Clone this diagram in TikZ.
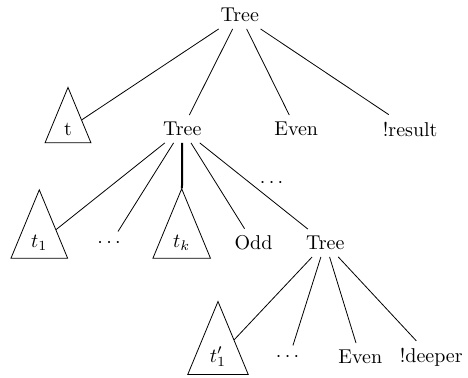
\documentclass[tikz,border=0pt]{standalone}
\usepackage{tikz}
\usepackage{amsmath, amssymb}
\usetikzlibrary{
  positioning,
  shapes.geometric
}

\begin{document}
\begin{tikzpicture}[x=0.5pt, y=0.5pt,
  word/.style={inner sep=0.3333em},
  subtree/.style={draw, isosceles triangle, shape border rotate=90, isosceles triangle apex angle=45, inner sep=3.8pt},
  edge/.style={draw, line width=0.4pt},
  spine/.style={draw, line width=1pt}
]
\useasboundingbox (0,0) rectangle (468,378);

% Nodes
\node[word] (root) at (239.7,363) {Tree};

\node[subtree] (t) at (68,249) {t};
\node[word] (tree1) at (182.3,249) {Tree};
\node[word] (even1) at (296.2,249) {Even};
\node[word] (result) at (410.2,249) {!result};

\node[word] (dotsTop) at (273.3,194.7) {$\cdots$};

\node[subtree] (t1) at (39.3,135) {$t_1$};
\node[word] (dots1) at (110.8,135) {$\cdots$};
\node[subtree] (tk) at (181.7,135) {$t_k$};
\node[word] (odd) at (253.5,135) {Odd};
\node[word] (tree2) at (325.3,135) {Tree};

\node[subtree] (t1p) at (218,21) {$t'_1$};
\node[word] (dots2) at (289.3,21) {$\cdots$};
\node[word] (even2) at (360.3,21) {Even};
\node[word] (deeper) at (431.3,21) {!deeper};

% Edges
\draw[edge] (root) -- (t);
\draw[edge] (root) -- (tree1);
\draw[edge] (root) -- (even1);
\draw[edge] (root) -- (result);

\draw[edge] (tree1) -- (t1);
\draw[edge] (tree1) -- (dots1);
\draw[spine] (tree1) -- (tk);
\draw[edge] (tree1) -- (odd);
\draw[edge] (tree1) -- (tree2);

\draw[edge] (tree2) -- (t1p);
\draw[edge] (tree2) -- (dots2);
\draw[edge] (tree2) -- (even2);
\draw[edge] (tree2) -- (deeper);

\end{tikzpicture}
\end{document}
